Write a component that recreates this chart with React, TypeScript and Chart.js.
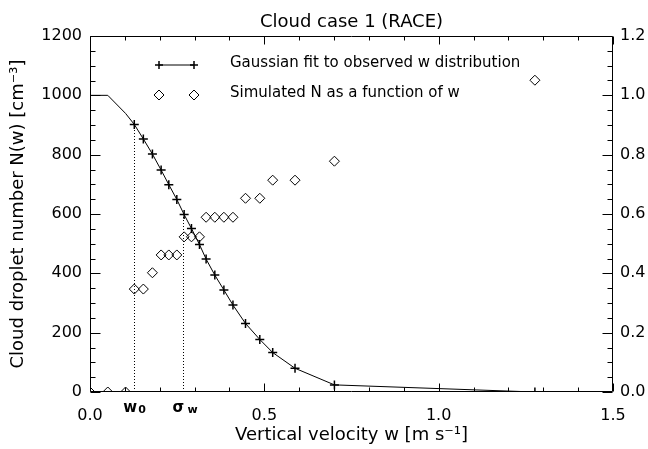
import React, { useEffect, useRef } from "react";
import { Chart, registerables } from "chart.js";

Chart.register(...registerables);

const FONT = "'DejaVu Sans', 'Liberation Sans', sans-serif";

const chartTitle = "Cloud case 1 (RACE)";
const xTitle = "Vertical velocity w [m s⁻¹]";
const yTitle = "Cloud droplet number N(w) [cm⁻³]";
const legendLabels = ["Gaussian fit to observed w distribution", "Simulated N as a function of w"];

// shared vertical velocity values (m/s)
const wValues = [0, 0.051, 0.102, 0.127, 0.153, 0.179, 0.204, 0.226, 0.249, 0.27, 0.291, 0.314, 0.333, 0.358, 0.384, 0.41, 0.446, 0.487, 0.524, 0.588, 0.701, 1.276];
// Gaussian fit curve (cm^-3)
const gaussianN = [1000, 1000, 939, 902, 853, 802, 748, 699, 649, 598, 551, 497, 448, 394, 344, 293, 231, 177, 133, 80, 24, 0];
// whether a "+" marker is drawn at the point
const gaussianMarker = [0, 0, 0, 1, 1, 1, 1, 1, 1, 1, 1, 1, 1, 1, 1, 1, 1, 1, 1, 1, 1, 1];
// simulated N (cm^-3)
const simulatedN = [0, 0, 0, 347, 347, 402, 462, 462, 462, 523, 523, 523, 589, 589, 589, 589, 653, 653, 714, 714, 778, 1051];

// reference dotted lines (w0 and sigma_w)
const refW = [0.127, 0.268];
const refN = [902, 600];
const refLabels = [["w", "0"], ["σ", "w"]];

const xRange = [0, 1.5];
const yRange = [0, 1200];
const y2Range = [0, 1.2];

const decorPlugin = {
  id: "decor",
  afterDraw(chart: any) {
    const { ctx, chartArea: a, scales } = chart;
    const xs = scales.x, ys = scales.y, y2s = scales.y2;
    ctx.save();
    ctx.strokeStyle = "#000";
    ctx.fillStyle = "#000";
    ctx.lineWidth = 1;

    // dotted reference lines
    ctx.setLineDash([1, 2]);
    refW.forEach((w, i) => {
      const px = Math.round(xs.getPixelForValue(w)) + 0.5;
      ctx.beginPath();
      ctx.moveTo(px, ys.getPixelForValue(0));
      ctx.lineTo(px, ys.getPixelForValue(refN[i]));
      ctx.stroke();
    });
    ctx.setLineDash([]);

    // frame
    const L = Math.round(a.left) + 0.5, R = Math.round(a.right) - 0.5;
    const T = Math.round(a.top) + 0.5, B = Math.round(a.bottom) - 0.5;
    ctx.beginPath();
    ctx.rect(L, T, R - L, B - T);
    ctx.stroke();

    // x ticks (bottom & top)
    for (let i = 0; i <= 15; i++) {
      const v = i * 0.1;
      const px = Math.round(xs.getPixelForValue(v)) + 0.5;
      const len = i % 5 === 0 ? 8 : 4;
      ctx.beginPath();
      ctx.moveTo(px, B); ctx.lineTo(px, B - len);
      ctx.moveTo(px, T); ctx.lineTo(px, T + len);
      ctx.stroke();
    }
    // left y ticks
    for (let i = 0; i <= 24; i++) {
      const py = Math.round(ys.getPixelForValue(i * 50)) + 0.5;
      const len = i % 4 === 0 ? 10 : 5;
      ctx.beginPath();
      ctx.moveTo(L, py); ctx.lineTo(L + len, py);
      ctx.stroke();
    }
    // right y ticks
    for (let i = 0; i <= 24; i++) {
      const py = Math.round(y2s.getPixelForValue(i * 0.05)) + 0.5;
      const len = i % 4 === 0 ? 10 : 5;
      ctx.beginPath();
      ctx.moveTo(R, py); ctx.lineTo(R - len, py);
      ctx.stroke();
    }

    // title
    ctx.font = `18px ${FONT}`;
    ctx.textAlign = "center";
    ctx.textBaseline = "alphabetic";
    ctx.fillText(chartTitle, (a.left + a.right) / 2, 27);

    // reference labels under axis
    ctx.textAlign = "left";
    refW.forEach((w, i) => {
      const px = xs.getPixelForValue(w);
      ctx.font = `bold 15px ${FONT}`;
      ctx.fillText(refLabels[i][0], px - 11, 412);
      ctx.font = `bold 11px ${FONT}`;
      ctx.fillText(refLabels[i][1], px + 4, 413);
    });

    // legend
    const lx1 = a.left + 69, lx2 = a.left + 104, tx = a.left + 140;
    const r1 = a.top + 29, r2 = a.top + 59;
    ctx.lineWidth = 1;
    ctx.beginPath();
    ctx.moveTo(lx1, r1); ctx.lineTo(lx2, r1);
    ctx.stroke();
    ctx.lineWidth = 1.5;
    [lx1, lx2].forEach((x) => {
      ctx.beginPath();
      ctx.moveTo(x - 4, r1); ctx.lineTo(x + 4, r1);
      ctx.moveTo(x, r1 - 4); ctx.lineTo(x, r1 + 4);
      ctx.stroke();
    });
    ctx.lineWidth = 1;
    [lx1, lx2].forEach((x) => {
      ctx.beginPath();
      ctx.moveTo(x - 5, r2); ctx.lineTo(x, r2 - 5); ctx.lineTo(x + 5, r2); ctx.lineTo(x, r2 + 5);
      ctx.closePath();
      ctx.stroke();
    });
    ctx.font = `15px ${FONT}`;
    ctx.fillText(legendLabels[0], tx, r1 + 2);
    ctx.fillText(legendLabels[1], tx, r2 + 2);

    ctx.restore();
  },
};

export default function App() {
  const ref = useRef<HTMLCanvasElement | null>(null);
  useEffect(() => {
    if (!ref.current) return;
    const tickFont = { family: FONT, size: 16 };
    const titleFont = { family: FONT, size: 18 };
    const area = { left: 0, top: 0, right: 0, bottom: 0 };
    const chart = new Chart(ref.current, {
      type: "scatter",
      data: {
        datasets: [
          {
            label: legendLabels[0],
            data: wValues.map((w, i) => ({ x: w, y: gaussianN[i] })),
            showLine: true,
            borderColor: "#000",
            borderWidth: 1,
            pointStyle: "cross",
            pointRadius: gaussianMarker.map((m) => (m ? 4.5 : 0)),
            pointBorderColor: "#000",
            pointBorderWidth: 1.5,
            tension: 0,
            clip: area,
            yAxisID: "y",
          } as any,
          {
            label: legendLabels[1],
            data: wValues.map((w, i) => ({ x: w, y: simulatedN[i] })),
            showLine: false,
            pointStyle: "rectRot",
            pointRadius: 5,
            backgroundColor: "rgba(0,0,0,0)",
            pointBackgroundColor: "rgba(0,0,0,0)",
            pointBorderColor: "#000",
            pointBorderWidth: 1,
            clip: area,
            yAxisID: "y",
          } as any,
        ],
      },
      options: {
        responsive: false,
        animation: false,
        events: [],
        layout: { padding: { top: 36, left: 0, right: 0, bottom: 0 } },
        plugins: { legend: { display: false }, tooltip: { enabled: false } },
        scales: {
          x: {
            type: "linear",
            position: "bottom",
            min: xRange[0],
            max: xRange[1],
            grid: { display: false, drawTicks: false },
            border: { display: false },
            ticks: {
              stepSize: 0.5,
              color: "#000",
              font: tickFont,
              padding: 14,
              maxRotation: 0,
              callback: (v: any) => Number(v).toFixed(1),
            },
            title: { display: true, text: xTitle, color: "#000", font: titleFont, padding: { top: 0, bottom: 3 } },
            afterFit: (s: any) => { s.height = 57; },
          },
          y: {
            type: "linear",
            position: "left",
            min: yRange[0],
            max: yRange[1],
            grid: { display: false, drawTicks: false },
            border: { display: false },
            ticks: { stepSize: 200, color: "#000", font: tickFont, padding: 8, callback: (v: any) => String(Math.round(Number(v))) },
            title: { display: true, text: yTitle, color: "#000", font: titleFont, padding: { top: 8, bottom: 0 } },
            afterFit: (s: any) => { s.width = 90; },
          },
          y2: {
            type: "linear",
            position: "right",
            min: y2Range[0],
            max: y2Range[1],
            grid: { display: false, drawTicks: false },
            border: { display: false },
            ticks: {
              stepSize: 0.2,
              color: "#000",
              font: tickFont,
              padding: 7,
              callback: (v: any) => Number(v).toFixed(1),
            },
            afterFit: (s: any) => { s.width = 35; },
          },
        },
      } as any,
      plugins: [decorPlugin],
    });
    return () => chart.destroy();
  }, []);
  return (
    <div style={{ position: "absolute", left: 0, top: 0, width: 648, height: 449, background: "#fff" }}>
      <canvas ref={ref} width={648} height={449} style={{ display: "block" }} />
    </div>
  );
}
